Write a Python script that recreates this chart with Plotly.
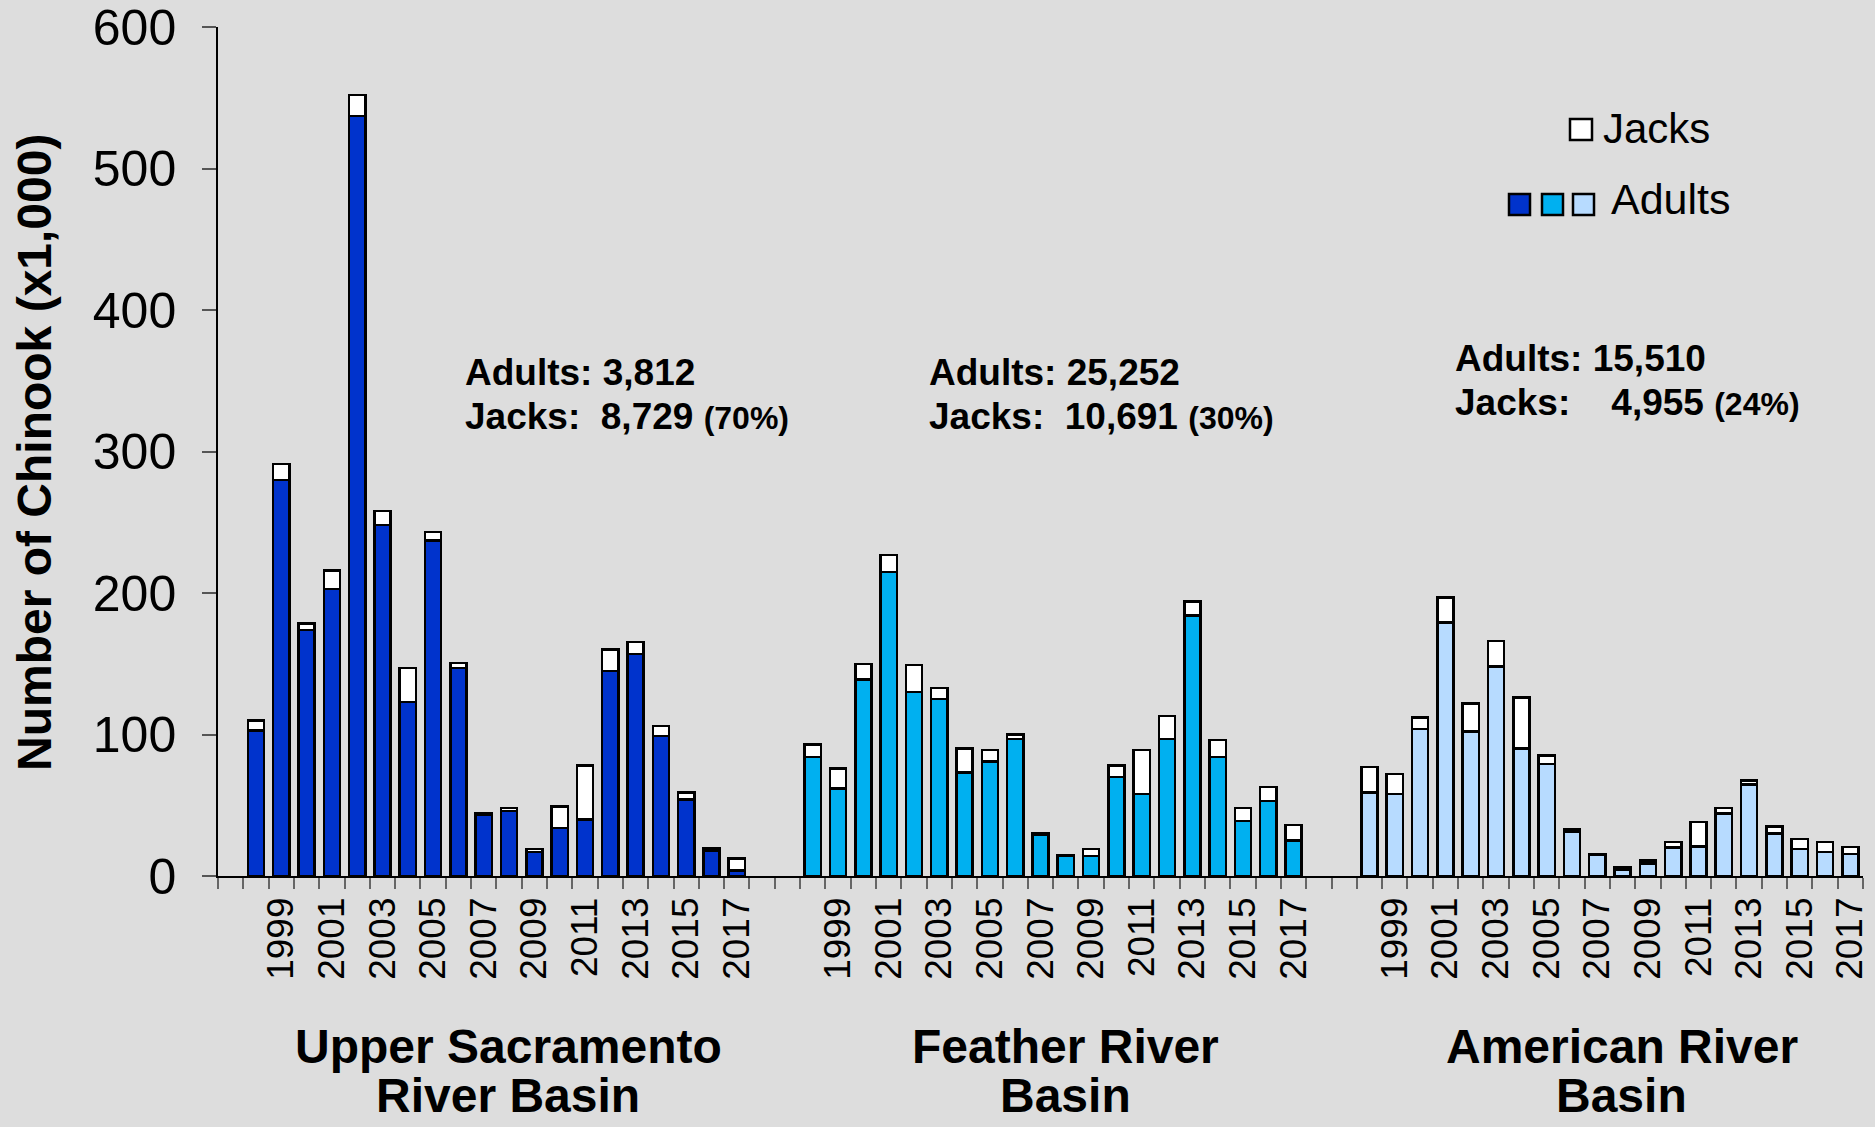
import plotly.graph_objects as go

# ---------------- data (x1,000 fish) ----------------
years = list(range(1998, 2018))
basin_line1 = ["Upper Sacramento", "Feather River", "American River"]
basin_line2 = ["River Basin", "Basin", "Basin"]

sac_adults = [103, 280, 174, 203, 537, 248, 123, 237, 147, 43, 46, 17, 34, 40, 145, 157, 99, 54, 18, 3.812]
sac_jacks = [7, 11, 4.5, 13, 15, 10, 24, 6, 3.5, 1.5, 2, 2, 15, 38, 15, 8.5, 7, 5, 1.5, 8.729]

fea_adults = [84, 62, 139, 215, 130, 125, 73, 81, 97, 29, 14, 14, 70, 58, 97, 184, 84, 39, 53, 25.252]
fea_jacks = [9, 14, 11, 12, 19, 8, 17, 8, 3, 1.5, 1, 5, 8, 31, 16, 10, 12, 9, 10, 10.691]

ame_adults = [59, 58, 104, 179, 102, 148, 90, 79, 31, 15, 4.5, 9, 20, 21, 44, 64.5, 30, 19, 17, 15.51]
ame_jacks = [18, 14, 8, 18, 20, 18, 36, 6, 2, 0.3, 1.5, 2, 4, 17, 4, 3, 5, 7, 7, 4.955]

adult_colors = ["#0033CC", "#00B0F0", "#B7DBFF"]
stat_adults = ["3,812", "25,252", "15,510"]
stat_jacks = ["8,729", "10,691", "4,955"]
stat_pct = ["(70%)", "(30%)", "(24%)"]

adults_all = [sac_adults, fea_adults, ame_adults]
jacks_all = [sac_jacks, fea_jacks, ame_jacks]

# ---------------- layout helpers ----------------
W, H = 1875, 1127
L, R, T, B = 218, 12, 27, 251
pw, ph = W - L - R, H - T - B
def px(xp):
    return (xp - L) / pw
def py(yp):
    return (H - B - yp) / ph

n = len(years)
gap = 2
xpos = [[1 + g * (n + gap) + i for i in range(n)] for g in range(3)]
nslots = 3 * n + 2 * gap + 1

FONT = "Arial, Liberation Sans, sans-serif"

fig = go.Figure()
for g in range(3):
    fig.add_trace(go.Bar(
        x=xpos[g], y=adults_all[g], name="Adults",
        marker=dict(color=adult_colors[g], line=dict(color="black", width=2.5)),
        showlegend=False,
    ))
for g in range(3):
    fig.add_trace(go.Bar(
        x=xpos[g], y=jacks_all[g], name="Jacks",
        marker=dict(color="white", line=dict(color="black", width=2.5)),
        showlegend=False,
    ))

tickvals, ticktext = [], []
for g in range(3):
    for i, yr in enumerate(years):
        if yr % 2 == 1:
            tickvals.append(xpos[g][i])
            ticktext.append(str(yr))

fig.update_layout(
    width=W, height=H,
    margin=dict(l=L, r=R, t=T, b=B),
    paper_bgcolor="#DDDDDD", plot_bgcolor="#DDDDDD",
    barmode="stack", bargap=0.36,
    font=dict(family=FONT, color="black"),
    xaxis=dict(
        range=[-0.5, nslots - 0.5], showgrid=False, zeroline=False, automargin=False,
        showline=True, linecolor="black", linewidth=1.5,
        tickmode="array", tickvals=tickvals, ticktext=ticktext,
        tickangle=-90, tickfont=dict(size=37, family=FONT),
        ticks="outside", ticklen=1, tickcolor="rgba(0,0,0,0)",
        ticklabelstandoff=4, ticklabeloverflow="allow",
        minor=dict(tickmode="linear", tick0=0.5, dtick=1, ticks="outside",
                   ticklen=11, tickcolor="#666666", tickwidth=1.5),
    ),
    yaxis=dict(
        range=[0, 600], tickvals=[0, 100, 200, 300, 400, 500, 600],
        showgrid=False, zeroline=False, automargin=False,
        showline=True, linecolor="black", linewidth=1.5,
        ticks="outside", ticklen=14, tickcolor="#555555", tickwidth=1.5,
        tickfont=dict(size=50, family=FONT), ticklabelstandoff=16,
        ticklabeloverflow="allow",
    ),
)

annotations = []
# y-axis title
annotations.append(dict(
    text="<b>Number of Chinook (x1,000)</b>", textangle=-90,
    xref="paper", yref="paper", x=px(34), y=py(453), xanchor="center", yanchor="middle",
    showarrow=False, font=dict(size=48, family=FONT),
))
# basin labels (two lines each)
for g in range(3):
    cx = sum(xpos[g]) / n
    for txt, yy in ((basin_line1[g], 1046), (basin_line2[g], 1095)):
        annotations.append(dict(
            text="<b>" + txt + "</b>", xref="x", yref="paper", x=cx, xshift=12,
            y=py(yy), yanchor="middle", xanchor="center", showarrow=False,
            font=dict(size=48, family=FONT), align="center",
        ))
# stats text (one annotation per line)
stat_pos = [(463, 372, 416), (927, 372, 416), (1453, 358, 402)]
for g in range(3):
    pad = "\u00a0" * (2 + 2 * (len(stat_adults[g]) - len(stat_jacks[g])))
    line1 = "<b>Adults:\u00a0" + stat_adults[g] + "</b>"
    line2 = ("<b>Jacks:" + pad + stat_jacks[g] + "\u00a0<span style='font-size:32px'>"
             + stat_pct[g] + "</span></b>")
    x0, y1, y2 = stat_pos[g]
    for txt, yy in ((line1, y1), (line2, y2)):
        annotations.append(dict(
            text=txt, xref="paper", yref="paper", x=px(x0), y=py(yy),
            xanchor="left", yanchor="middle", align="left", showarrow=False,
            font=dict(size=37, family=FONT),
        ))
# legend text
annotations.append(dict(text="Jacks", xref="paper", yref="paper", x=px(1601), y=py(129),
                        xanchor="left", yanchor="middle", showarrow=False, font=dict(size=42, family=FONT)))
annotations.append(dict(text="Adults", xref="paper", yref="paper", x=px(1609), y=py(199),
                        xanchor="left", yanchor="middle", showarrow=False, font=dict(size=43, family=FONT)))
fig.update_layout(annotations=annotations)

# legend swatches
shapes = [dict(type="rect", xref="paper", yref="paper", x0=px(1570), x1=px(1592), y0=py(140), y1=py(119),
               fillcolor="white", line=dict(color="black", width=2.5))]
sw_x = [1509, 1542, 1573]
for g in range(3):
    shapes.append(dict(type="rect", xref="paper", yref="paper", x0=px(sw_x[g]), x1=px(sw_x[g] + 21),
                       y0=py(215), y1=py(194), fillcolor=adult_colors[g], line=dict(color="black", width=2.5)))
fig.update_layout(shapes=shapes)

fig.write_html("out.html", config={"displayModeBar": False},
               post_script="document.body.style.margin='0';document.body.style.overflow='hidden';")
